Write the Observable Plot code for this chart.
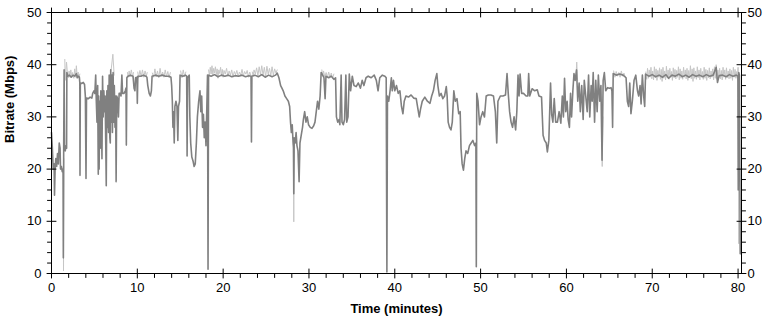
<!DOCTYPE html>
<html><head><meta charset="utf-8">
<script src="https://cdn.jsdelivr.net/npm/d3@7"></script>
<script src="https://cdn.jsdelivr.net/npm/@observablehq/plot@0.6"></script>
<style>body{margin:0;background:#fff;} #chart svg{display:block}</style>
</head><body><div id="chart"></div>
<script>
const xMajorTicks = [0, 10, 20, 30, 40, 50, 60, 70, 80];
const xMinorTicks = [2, 4, 6, 8, 12, 14, 16, 18, 22, 24, 26, 28, 32, 34, 36, 38, 42, 44, 46, 48, 52, 54, 56, 58, 62, 64, 66, 68, 72, 74, 76, 78];
const yMajorTicks = [0, 10, 20, 30, 40, 50];
const yMinorTicks = [2, 4, 6, 8, 12, 14, 16, 18, 22, 24, 26, 28, 32, 34, 36, 38, 42, 44, 46, 48];
const xLabel = "Time (minutes)";
const yLabel = "Bitrate (Mbps)";

// averaged bitrate (dark grey): [minute, Mbps]
const darkSeries = [
[0,27],[0.1,24],[0.2,20],[0.3,21],[0.35,15],[0.42,20],[0.5,22],[0.6,20.5],[0.7,23],[0.8,21],[0.9,25],[1.0,24],[1.05,20],[1.15,20.5],[1.25,19.5],[1.35,20],[1.38,3],[1.42,24],[1.47,39],[1.52,24],[1.6,23.5],[1.7,24.5],[1.76,24],[1.79,38.5],[1.9,37.8],[2.1,38],[2.3,37.6],[2.5,38],[2.7,37.8],[2.9,38.3],[3.0,37.5],[3.1,37.8],[3.25,37.6],[3.3,36.5],[3.32,18.8],[3.36,36.5],[3.5,36.4],[3.7,36.6],[3.85,36.2],[3.95,33.8],[4.02,18.2],[4.08,33.6],[4.3,33.5],[4.5,33.8],[4.7,33.6],[4.8,34.5],[4.95,35],[5.05,34.5],[5.15,38],[5.22,33],[5.3,29],[5.38,36],[5.45,19],[5.5,34],[5.55,20],[5.62,33],[5.68,24],[5.75,35],[5.82,30],[5.88,22],[5.95,37.8],[6.02,30],[6.1,35],[6.18,31],[6.25,34],[6.32,25],[6.38,16.8],[6.45,35],[6.52,28],[6.58,36],[6.65,27],[6.72,38],[6.8,26],[6.85,25],[6.9,39],[6.97,29],[7.05,38],[7.1,27],[7.18,38.5],[7.25,29],[7.32,36],[7.4,28],[7.47,34],[7.53,17.6],[7.6,34],[7.7,33.5],[7.8,30],[7.88,34.5],[8.0,34.5],[8.1,34],[8.2,38],[8.28,34.5],[8.45,34.5],[8.6,35],[8.68,35.5],[8.72,24.6],[8.78,37.5],[8.9,37.8],
[9.2,38],[9.5,37.8],[9.62,35.5],[9.72,35],[9.8,37.5],[9.95,37.6],[10.0,32.6],[10.06,37.8],[10.4,37.8],[10.7,38],[11.0,37.8],[11.12,37.6],[11.22,36],[11.38,34.5],[11.52,34],[11.64,35],[11.72,37.8],[12.1,38],[12.5,37.8],[12.9,38],[13.3,37.8],[13.7,37.8],[13.92,37.6],[14.0,36],[14.08,33],[14.15,28],[14.22,31],[14.3,25],[14.38,32],[14.5,33],[14.62,32],[14.72,25.5],[14.8,32],[14.92,33],[14.98,38],[15.3,37.8],[15.6,38],[15.75,37.8],[15.8,22.5],[15.86,37.5],[16.05,38],[16.12,30],[16.22,25],[16.35,22.3],[16.5,21.5],[16.62,20.5],[16.75,21],[16.88,25],[17.0,30],[17.15,33],[17.3,35],[17.4,31],[17.5,34],[17.6,28],[17.7,30.5],[17.8,26],[17.9,29],[18.0,24.5],[18.1,32],[18.18,38],[18.24,0.8],[18.3,38],
[18.6,37.8],[19.0,38.1],[19.4,37.7],[19.8,38],[20.2,37.8],[20.6,38],[21.0,37.7],[21.4,37.9],[21.8,37.8],[22.2,38],[22.6,37.7],[23.0,37.9],[23.25,37.8],[23.3,25.2],[23.35,37.8],[23.7,38],[24.1,37.7],[24.5,38.1],[24.9,37.6],[25.3,38],[25.7,37.7],[26.1,38],[26.3,38.4],[26.5,37.5],[26.7,36],[26.85,35.5],[27.0,35],[27.2,34],[27.4,33.5],[27.6,33],[27.75,32],[27.85,29],[27.95,27],[28.05,28.5],[28.15,25],[28.2,24],[28.23,15.3],[28.28,26],[28.4,25],[28.5,27],[28.6,24.5],[28.72,23.5],[28.85,17.6],[28.95,25],[29.1,26.5],[29.25,28],[29.35,29.5],[29.5,31],[29.65,29],[29.8,30],[29.95,28.5],[30.15,28],[30.35,27.8],[30.55,28.3],[30.7,29],[30.85,31],[31.0,33],[31.15,31.5],[31.3,34],[31.42,38.5],[31.6,38],[31.75,37.5],[31.88,33.5],[31.98,37.8],[32.3,37.5],[32.6,37.8],[32.9,37.2],[33.1,37.5],[33.2,30],[33.35,29],[33.5,29.5],[33.6,28.5],[33.75,38],[33.85,29],[34.0,28.5],[34.15,29.5],[34.3,38],[34.4,29],[34.55,30],[34.7,38.2],[34.85,35],[35.05,37.8],[35.25,36],[35.5,35.8],[35.75,36.5],[36.0,35.5],[36.2,37],[36.4,36],[36.65,37.5],[36.9,37.8],[37.25,37.5],[37.6,38],[37.85,37],[38.05,35],[38.25,37.5],[38.55,38],[38.85,37.8],[39.0,37.5],[39.08,0.3],[39.15,34],[39.3,33],[39.45,35],[39.6,37.5],[39.7,35],[39.85,37],[40.0,35],[40.2,36],[40.4,34.5],[40.6,35],[40.78,32],[40.95,30.6],[41.1,33],[41.3,34],[41.6,33.8],[41.9,34.2],[42.2,33.6],[42.5,33.5],[42.7,31.5],[42.85,30],[43.0,31.5],[43.2,33],[43.5,33.8],[43.8,33],[44.1,32.6],[44.3,34],[44.5,35],[44.7,37],[44.9,38.3],[45.02,36],[45.2,34],[45.4,34.5],[45.6,33.5],[45.8,34],[46.0,35.8],[46.1,34],[46.22,29],[46.38,28],[46.55,27.5],[46.7,29],[46.88,35],[47.05,33],[47.25,33.5],[47.45,30.6],[47.62,31],[47.72,24],[47.85,21],[48.0,19.8],[48.15,22],[48.3,23.5],[48.5,23],[48.7,24.5],[48.9,25],[49.1,25.5],[49.3,24.5],[49.45,25],[49.5,1.3],[49.55,34.5],[49.7,33],[49.88,28.5],[50.05,30],[50.25,31],[50.45,30],[50.65,34],[50.9,34.2],[51.2,34.2],[51.5,34],[51.72,31],[51.88,25],[52.02,33],[52.3,34],[52.6,34],[52.9,34.2],[53.08,38.3],[53.22,34.5],[53.38,31],[53.55,29],[53.72,28],[53.9,30],[54.08,27.5],[54.22,31],[54.36,38],[54.48,34],[54.6,38.2],[54.78,34.5],[55.0,34.5],[55.3,34],[55.5,34],[55.6,38.3],[55.72,34],[56.0,35.4],[56.3,35],[56.6,35.2],[56.8,34],[57.1,33.8],[57.28,26.5],[57.45,25.5],[57.65,25],[57.78,23.3],[57.95,25.5],[58.05,31],[58.15,36.5],[58.28,30.5],[58.42,29],[58.58,33.5],[58.75,29],[58.95,29],[59.15,31],[59.35,28.8],[59.52,34],[59.65,30],[59.78,37.4],[59.92,31],[60.08,33],[60.2,29.5],[60.35,28],[60.48,34.5],[60.6,30],[60.75,35],[60.88,38.3],[61.02,37],[61.18,39],[61.32,33],[61.48,36.5],[61.62,31],[61.78,36],[61.95,29.5],[62.08,37],[62.25,34],[62.42,31],[62.58,38],[62.72,30],[62.88,36],[63.0,33],[63.12,38.5],[63.28,29],[63.42,37],[63.58,31],[63.72,38],[63.88,33],[64.02,36],[64.15,21.7],[64.28,37],[64.42,38.5],[64.58,35],[64.8,35.6],[65.0,35.5],[65.2,35.6],[65.3,35],[65.38,28],[65.45,38.3],[65.8,38],[66.2,38.2],[66.6,38],[66.95,37.5],[67.1,33],[67.25,32],[67.38,36.5],[67.52,30.6],[67.68,33],[67.88,37],[68.08,38],[68.28,35],[68.42,34],[68.58,36],[68.7,32.5],[68.85,38],[69.0,34],[69.12,32],[69.22,38.2],[69.6,37.8],[70.0,38.1],[70.4,37.7],[70.8,38],[71.2,37.6],[71.6,38.1],[71.9,37.4],[72.3,38],[72.7,37.8],[73.1,38.2],[73.5,37.7],[73.9,38],[74.3,37.6],[74.7,38.1],[75.1,37.8],[75.5,38],[75.9,37.7],[76.3,38.1],[76.7,37.8],[77.1,38],[77.45,39.5],[77.6,36.6],[77.8,37.9],[78.2,38],[78.6,37.7],[79.0,38.1],[79.4,37.8],[79.8,38],[79.98,37.8],[80.02,16],[80.08,38.5],[80.16,38],[80.25,3.8],[80.3,3.8]
];

// raw bitrate samples (light grey), null = gap
const lightSeries = [
[1.36,20],[1.4,0.5],[1.44,22],[1.45,null],
[1.55,41],[1.6,37],[1.75,40.5],[1.85,38.5],[1.95,37.5],[2.05,38.8],[2.15,37.6],[2.25,39],[2.35,37.8],[2.45,38.5],[2.6,37.4],[2.7,39.2],[2.8,37.6],[2.9,39.8],[3.0,37.5],[3.1,38.6],[3.2,37.4],[3.3,38.2],[3.31,null],
[6.95,39],[7.15,42],[7.3,38],[7.31,null],
[8.85,38.5],[8.95,37.6],[9.05,38.8],[9.15,37.7],[9.3,39],[9.45,37.6],[9.55,38.5],[9.56,null],
[10.05,38.6],[10.15,37.5],[10.3,38.9],[10.45,37.7],[10.6,39],[10.75,37.6],[10.9,38.8],[11.05,37.8],[11.15,38.5],[11.16,null],
[11.75,38.4],[11.9,37.6],[12.05,39.2],[12.2,37.7],[12.35,38.8],[12.5,37.5],[12.65,39.3],[12.8,37.8],[12.95,38.6],[13.1,37.6],[13.25,39],[13.4,37.7],[13.55,38.7],[13.7,37.5],[13.85,38.5],[13.86,null],
[15.05,38.8],[15.2,37.5],[15.35,39],[15.5,37.7],[15.65,38.6],[15.66,null],
[18.3,39],[18.4,38],[18.5,39.5],[18.6,38.2],[18.7,39.8],[18.8,38],[18.9,39.3],[19.0,38.4],[19.1,39.6],[19.2,38.1],[19.3,39.2],[19.4,37.4],[19.5,39],[19.6,38.3],[19.7,39.5],[19.8,38],[19.9,39.1],[20.0,37.6],[20.1,38.9],[20.25,38.2],[20.4,39.3],[20.55,37.8],[20.7,38.8],[20.85,38],[21.0,39],[21.15,37.6],[21.3,38.7],[21.45,38.1],[21.6,38.9],[21.75,37.7],[21.9,38.6],[22.05,38],[22.2,39.1],[22.35,37.8],[22.5,38.7],[22.65,38.2],[22.8,38.9],[22.95,37.6],[23.1,38.6],[23.22,38],[23.23,null],
[23.4,38.6],[23.5,37.8],[23.6,39],[23.75,38.2],[23.9,39.4],[24.05,37.9],[24.2,39.6],[24.35,38.1],[24.5,39.8],[24.65,38],[24.8,39.5],[24.95,37.7],[25.1,39.7],[25.25,38.2],[25.4,39.3],[25.55,37.9],[25.7,39.6],[25.85,38],[26.0,39.2],[26.15,38.4],[26.3,39],[26.31,null],
[28.18,24],[28.23,9.9],[28.28,25],[28.29,null],
[31.5,39],[31.6,37.8],[31.7,38.8],[31.85,37.6],[32.0,38.5],[32.15,37.6],[32.3,38.6],[32.45,37.5],[32.6,38.4],[32.75,37.4],[32.9,38.2],[32.91,null],
[61.1,37],[61.2,40.5],[61.3,37],[61.31,null],
[64.1,30],[64.17,20.5],[64.25,30],[64.26,null],
[65.5,38.8],[65.65,37.6],[65.8,38.7],[65.95,37.8],[66.1,38.5],[66.25,37.6],[66.4,38.8],[66.55,37.8],[66.7,38.4],[66.85,37.7],[66.86,null],
[69.25,38.6],[69.35,37.2],[69.45,39.3],[69.55,37.4],[69.65,39],[69.75,37.6],[69.85,39.5],[69.95,37.3],[70.05,38.8],[70.15,37.1],[70.25,39.6],[70.35,37.5],[70.45,39.2],[70.55,37],[70.65,38.9],[70.75,37.6],[70.85,39.4],[70.95,37.2],[71.05,39.1],[71.15,36.8],[71.25,39.5],[71.35,37.4],[71.45,38.8],[71.55,37.1],[71.65,39.7],[71.75,37.5],[71.85,39],[71.95,37.2],[72.05,39.3],[72.15,37.6],[72.25,38.7],[72.35,37],[72.45,39.4],[72.55,37.5],[72.65,39.1],[72.75,37.3],[72.85,38.9],[72.95,37.6],[73.05,39.6],[73.15,37.1],[73.25,39.2],[73.35,37.4],[73.45,38.8],[73.55,37.2],[73.65,39.5],[73.75,37.6],[73.85,39],[73.95,37.3],[74.05,39.3],[74.15,37],[74.25,38.9],[74.35,37.5],[74.45,39.8],[74.55,37.3],[74.65,39.2],[74.75,36.8],[74.85,39.4],[74.95,37.4],[75.05,38.8],[75.15,37.2],[75.25,39.6],[75.35,37.5],[75.45,39],[75.55,37.1],[75.65,39.3],[75.75,37.6],[75.85,38.7],[75.95,37.2],[76.05,39.5],[76.15,37.4],[76.25,39.1],[76.35,37],[76.45,38.9],[76.55,37.5],[76.65,39.4],[76.75,37.3],[76.85,38.8],[76.95,37.6],[77.05,39.2],[77.15,37.1],[77.25,39.6],[77.35,37.4],[77.45,40],[77.55,37.2],[77.65,39],[77.75,37.5],[77.85,39.3],[77.95,37.3],[78.05,38.9],[78.15,37.1],[78.25,39.5],[78.35,37.6],[78.45,39],[78.55,37.2],[78.65,39.4],[78.75,37.5],[78.85,38.8],[78.95,37.3],[79.05,39.2],[79.15,37.4],[79.25,38.9],[79.35,37],[79.45,39.5],[79.55,37.6],[79.65,39.1],[79.75,37.4],[79.85,38.7],[79.95,37.5],[80.0,39.5],[80.08,5.7],[80.12,38]
];

const darkData = darkSeries.map(([t, v]) => ({t, v}));
const lightData = lightSeries.map(([t, v]) => ({t, v: v == null ? NaN : v}));

const tickShape = {draw(ctx, l) { ctx.moveTo(0, 0); ctx.lineTo(0, -l); }};
const tk = {stroke: "black", strokeWidth: 1, shape: tickShape};

const chart = Plot.plot({
  width: 771,
  height: 321,
  marginLeft: 51,
  marginRight: 30,
  marginTop: 12,
  marginBottom: 48,
  style: {fontFamily: "'Liberation Sans', Arial, sans-serif", fontSize: "13px", background: "white", color: "black"},
  x: {domain: [0, 80.4], axis: null},
  y: {domain: [0, 50], axis: null},
  marks: [
    Plot.line(lightData, {x: "t", y: "v", stroke: "#c6c6c6", strokeWidth: 1}),
    Plot.line(darkData, {x: "t", y: "v", stroke: "#808080", strokeWidth: 1.6}),
    Plot.frame({stroke: "black"}),
    Plot.vector(xMajorTicks, {x: d => d, frameAnchor: "bottom", length: 9, anchor: "middle", rotate: 0, ...tk}),
    Plot.vector(xMinorTicks, {x: d => d, frameAnchor: "bottom", length: 4, anchor: "start", rotate: 180, ...tk}),
    Plot.vector(xMajorTicks, {x: d => d, frameAnchor: "top", length: 9, anchor: "middle", rotate: 0, ...tk}),
    Plot.vector(xMinorTicks, {x: d => d, frameAnchor: "top", length: 4, anchor: "start", rotate: 0, ...tk}),
    Plot.vector(yMajorTicks, {y: d => d, frameAnchor: "left", length: 9, anchor: "middle", rotate: 90, ...tk}),
    Plot.vector(yMinorTicks, {y: d => d, frameAnchor: "left", length: 4, anchor: "start", rotate: -90, ...tk}),
    Plot.vector(yMajorTicks, {y: d => d, frameAnchor: "right", length: 9, anchor: "middle", rotate: 90, ...tk}),
    Plot.vector(yMinorTicks, {y: d => d, frameAnchor: "right", length: 4, anchor: "start", rotate: 90, ...tk}),
    Plot.text(xMajorTicks, {x: d => d, text: d => String(d), frameAnchor: "bottom", dy: 18, fill: "black"}),
    Plot.text(yMajorTicks, {y: d => d, text: d => String(d), frameAnchor: "left", dx: -10, textAnchor: "end", fill: "black"}),
    Plot.text(yMajorTicks, {y: d => d, text: d => String(d), frameAnchor: "right", dx: 6, textAnchor: "start", fill: "black"}),
    Plot.text([xLabel], {text: d => d, frameAnchor: "bottom", dy: 39, fontWeight: "bold", fill: "black"}),
    Plot.text([yLabel], {text: d => d, frameAnchor: "left", dx: -42, rotate: -90, fontWeight: "bold", fill: "black"})
  ]
});
document.getElementById("chart").appendChild(chart);
</script>
</body></html>
